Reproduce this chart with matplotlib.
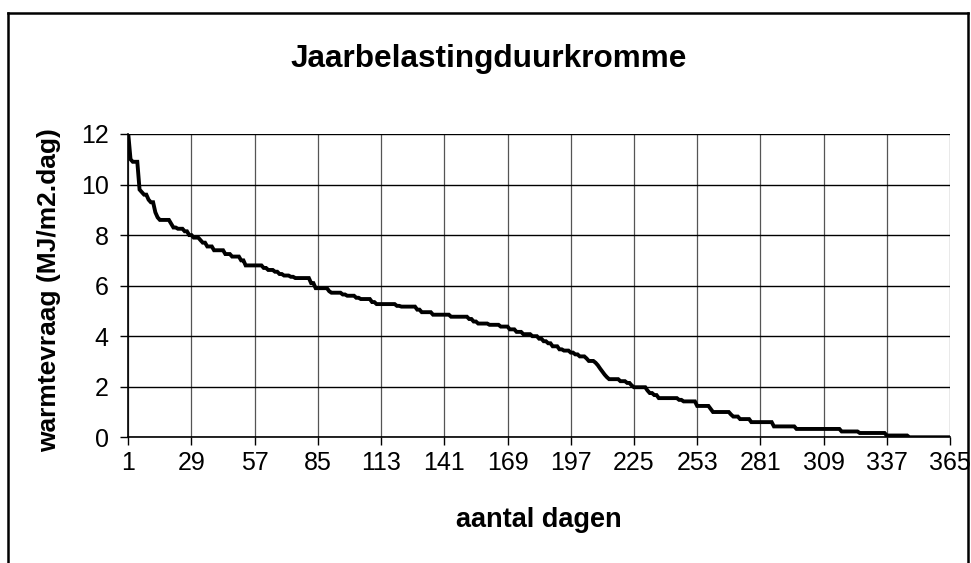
import numpy as np
import matplotlib
matplotlib.use('Agg')
import matplotlib.pyplot as plt
from matplotlib.lines import Line2D

plt.rcParams['font.family'] = ['Liberation Sans', 'DejaVu Sans']

# sorted daily demand, stored as runs: first day of each level and its value
step_start = [1, 2, 3, 6, 7, 8, 10, 11, 13, 14,
              15, 20, 21, 23, 26, 28, 30, 33, 34, 36,
              39, 44, 47, 51, 53, 61, 63, 66, 68, 70,
              73, 75, 82, 84, 90, 91, 96, 98, 102, 104,
              109, 111, 120, 122, 129, 131, 136, 144, 152, 154,
              156, 161, 166, 170, 173, 176, 180, 183, 185, 187,
              189, 192, 194, 197, 199, 201, 204, 205, 208, 209,
              210, 211, 212, 213, 214, 219, 222, 224, 225, 231,
              232, 234, 236, 245, 247, 253, 259, 260, 268, 269,
              272, 277, 287, 297, 317, 325, 337, 347]
step_value = [12.0, 11.0, 10.9, 9.8, 9.7, 9.6, 9.4, 9.3, 8.9, 8.7,
              8.6, 8.45, 8.3, 8.25, 8.15, 8.0, 7.9, 7.8, 7.7, 7.55,
              7.4, 7.25, 7.15, 7.0, 6.8, 6.7, 6.62, 6.55, 6.46, 6.4,
              6.35, 6.3, 6.1, 5.9, 5.78, 5.72, 5.65, 5.6, 5.52, 5.47,
              5.35, 5.27, 5.2, 5.17, 5.05, 4.95, 4.85, 4.77, 4.68, 4.58,
              4.5, 4.45, 4.38, 4.27, 4.17, 4.08, 4.0, 3.9, 3.8, 3.72,
              3.6, 3.48, 3.43, 3.35, 3.28, 3.2, 3.12, 3.02, 2.95, 2.85,
              2.72, 2.6, 2.48, 2.38, 2.3, 2.22, 2.15, 2.05, 1.98, 1.85,
              1.75, 1.67, 1.55, 1.48, 1.42, 1.24, 1.12, 1.0, 0.9, 0.82,
              0.72, 0.6, 0.43, 0.33, 0.23, 0.17, 0.07, 0.0]
n_days = 365
x_ticks = list(range(1, n_days + 1, 28))
y_ticks = [0, 2, 4, 6, 8, 10, 12]

counts = np.diff(step_start + [n_days + 1])
demand = np.repeat(step_value, counts)
days = np.arange(1, n_days + 1)

fig = plt.figure(figsize=(9.71, 5.63), dpi=100)
ax = fig.add_axes([0.1321, 0.2233, 0.8463, 0.5387])

ax.plot(days, demand, color='black', lw=2.8, solid_joinstyle='miter')

ax.set_xlim(1, n_days)
ax.set_ylim(0, 12)
ax.set_xticks(x_ticks)
ax.set_yticks(y_ticks)
ax.grid(axis='y', color='black', lw=1.0)
ax.grid(axis='x', color='#555555', lw=0.9)
ax.set_axisbelow(True)
for s in ['top', 'right']:
    ax.spines[s].set_visible(False)
for s in ['left', 'bottom']:
    ax.spines[s].set_color('black')
    ax.spines[s].set_linewidth(1.2)
ax.tick_params(direction='out', length=6, width=1, colors='black', labelsize=18)
ax.tick_params(axis='x', pad=4)
ax.tick_params(axis='y', pad=8)

fig.text(489 / 971, 1 - 59 / 563, 'Jaarbelastingduurkromme',
         fontsize=22.7, fontweight='bold', ha='center', va='center')
ax.set_xlabel('aantal dagen', fontsize=19.5, fontweight='bold', va='center')
ax.xaxis.set_label_coords(0.5, -0.273)
ax.set_ylabel('warmtevraag (MJ/m2.dag)', fontsize=19, fontweight='bold', va='center')
ax.yaxis.set_label_coords(-0.096, 0.485)

# chart frame, bottom edge falls outside the picture
l, r, t = 7.5 / 971, 968 / 971, 1 - 12.5 / 563
for xs, ys in [([l, l], [-0.1, t]), ([l, r], [t, t]), ([r, r], [t, -0.1])]:
    fig.add_artist(Line2D(xs, ys, color='black', lw=1.8, transform=fig.transFigure))

fig.savefig('out.png', dpi=100)
